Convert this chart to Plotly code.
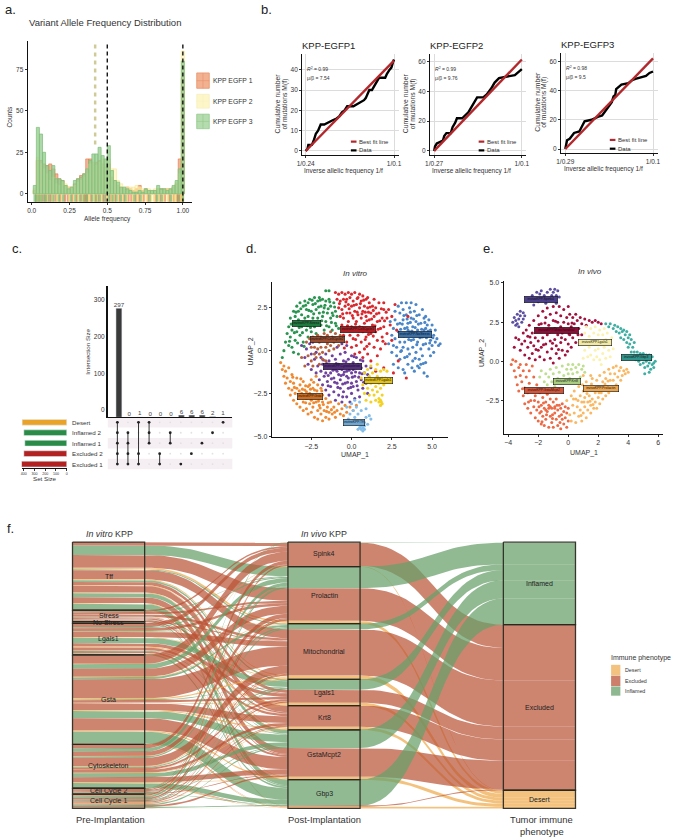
import numpy as np
import plotly.graph_objects as go

W, H = 680, 839
FONT = "Liberation Sans"

# ---------- panel a: allele frequency histogram ----------
hist_step = 0.0204
hist_bins = list(range(1, 50))
egfp1_counts = [2,20,20,18,17,18,15,12,9,8,5,4,4,6,9,11,12,21,21,19,19,20,18,16,18,10,8,5,4,3,4,3,2,3,5,2,3,2,2,2,3,3,3,3,3,4,6,21,70]
egfp2_counts = [3,22,18,15,12,8,10,6,5,7,6,4,4,5,7,8,10,12,18,19,17,19,21,20,21,15,15,8,6,4,4,4,4,5,4,3,2,3,2,3,3,2,3,3,3,4,7,12,86]
egfp3_counts = [5,40,36,25,17,14,17,9,9,8,5,3,4,8,9,10,12,15,20,24,24,28,23,21,29,14,8,7,4,4,3,2,1,1,2,1,3,2,2,2,5,3,3,2,3,5,8,15,80]
rug1 = [.03,.05,.07,.09,.11,.13,.16,.19,.22,.24,.27,.3,.33,.35,.36,.37,.39,.42,.44,.47,.49,.52,.55,.58,.61,.64,.66,.69,.71,.74,.77,.82,.85,.88,.91,.94,.96,.97,.98,.99,1.0]
rug2 = [.04,.06,.1,.14,.17,.2,.25,.28,.31,.34,.38,.41,.43,.46,.5,.53,.54,.57,.6,.63,.67,.7,.73,.76,.79,.81,.84,.87,.9,.93,.95,.99,1.0]
rug3 = [.02,.03,.045,.06,.08,.095,.12,.145,.18,.21,.26,.29,.32,.345,.365,.4,.425,.45,.48,.51,.535,.56,.59,.62,.68,.72,.78,.83,.86,.92,.97,1.0]
vaf_black_lines = [0.5, 1.0]
vaf_tan_line = [0.42]
egfp_names = ["KPP EGFP 1", "KPP EGFP 2", "KPP EGFP 3"]

# ---------- panel b: neutral-evolution fits ----------
b1_x = [0,.02,.03,.07,.09,.10,.115,.14,.17,.21,.25,.30,.35,.38,.41,.44,.47,.54,.58,.63,.66,.68,.70,.72,.75,.78,.80,.83,.90,.92,.95,.97,.99,1]
b1_y = [0,1,3,3,5,7,8.5,10,13,13,14,15,16,17,19,20,22,22,23,24,25,26,28,30,30,32,34,36,36,38,40,41,44,45]
b2_x = [0,.01,.03,.06,.10,.115,.14,.19,.21,.24,.26,.32,.36,.39,.42,.45,.49,.56,.60,.65,.69,.74,.85,.92,.96,1]
b2_y = [0,3,5,6,7,10,12,12,16,19,22,22,24,26,29,32,36,36,38,42,46,49,50,51,53,55]
b3_x = [0,.01,.02,.05,.08,.10,.16,.19,.22,.30,.33,.37,.42,.46,.50,.53,.55,.57,.58,.60,.64,.72,.76,.80,.86,.92,.96,1]
b3_y = [0,3,6,7,9,11,12,16,19,20,21,22,23,26,29,32,36,37,41,42,44,45,47,48,49,50,52,53]
fit_end = [44.5, 61.5, 62]
b_titles = ["KPP-EGFP1", "KPP-EGFP2", "KPP-EGFP3"]
b_low_ticks = ["1/0.24", "1/0.27", "1/0.29"]
b_r2 = ["0.99", "0.99", "0.98"]
b_mu = ["7.54", "9.76", "9.5"]

# ---------- panel c: upset plot ----------
inter_sizes = [297,0,1,0,0,0,6,6,6,2,1]
set_names = ["Desert","Inflamed 2","Inflamed 1","Excluded 2","Excluded 1"]
set_sizes = [415,399,390,399,421]
set_colors = ["#E9A32A","#2B8C47","#2B8C47","#B22222","#B22222"]
inter_members = [[0,1,2,3,4],[1,2,3,4],[0,3,4],[0,1,2],[3,4],[1,2],[4],[3],[2],[1],[0]]

# ---------- panel d: in vitro UMAP ----------
d_stress = [(-4.2,0),(-4.1,.5),(-4,1),(-3.9,.3),(-3.9,1.4),(-3.8,.8),(-3.8,1.9),(-3.7,.2),(-3.7,1.2),(-3.6,2.3),(-3.6,1.6),(-3.5,.6),(-3.5,2),(-3.4,2.6),(-3.4,1.1),(-3.3,1.8),(-3.3,2.3),(-3.2,.9),(-3.2,2.8),(-3.1,1.4),(-3.1,2.1),(-3,2.6),(-3,.5),(-2.9,1.9),(-2.9,2.9),(-2.8,1.2),(-2.8,2.4),(-2.7,.8),(-2.7,2),(-2.7,2.8),(-2.6,1.6),(-2.6,3),(-2.5,2.3),(-2.5,1.1),(-2.4,2.7),(-2.4,1.9),(-2.3,3.1),(-2.3,1.4),(-2.2,2.4),(-2.2,1),(-2.1,2.9),(-2.1,1.9),(-2,2.2),(-2,3.1),(-1.9,1.5),(-1.9,2.6),(-1.8,3),(-1.8,2),(-1.7,1.2),(-1.7,2.5),(-1.6,2.9),(-1.6,1.7),(-1.5,2.2),(-1.4,3),(-1.4,1.4),(-1.3,2.6),(-1.3,1.9),(-1.2,2.2),(-1.2,1.2),(-1.1,2.8),(-1,1.6),(-1,2.3),(-.9,2),(-.8,1.3),(-1.6,3.5),(-1.4,3.5),(-3.3,-.2),(-4.3,-.4),(-3.6,-.1),(-3.75,1.55),(-3.55,1.05),(-3.45,2.25),(-3.25,1.35),(-3.15,2.45),(-2.95,1.55),(-2.85,2.65),(-2.65,2.35),(-2.55,1.35),(-2.45,2.95),(-2.35,2.15),(-2.25,2.75),(-2.15,1.55),(-2.05,2.55),(-1.95,2.95),(-1.85,1.75),(-1.75,2.25),(-1.65,2.65),(-1.55,1.45),(-1.45,2.45),(-1.35,2.85),(-1.25,1.65),(-1.15,2.05),(-1.05,2.55),(-.95,1.45),(-3.85,.55),(-3.35,.45),(-3.05,1.05),(-2.75,1.45),(-2.95,.25)]
d_cycle1 = [(-1,3.4),(-.9,3),(-.8,2.5),(-.8,3.3),(-.7,2),(-.7,2.9),(-.6,1.5),(-.6,3.4),(-.6,2.4),(-.5,3),(-.5,1.9),(-.5,.9),(-.4,2.6),(-.4,3.3),(-.4,1.3),(-.3,2.2),(-.3,.5),(-.3,3),(-.2,1.7),(-.2,2.7),(-.2,3.4),(-.1,.9),(-.1,2.2),(-.1,3.1),(0,1.4),(0,2.6),(0,.2),(0,3.3),(.1,1.9),(.1,2.9),(.1,.7),(.2,3.4),(.2,2.3),(.2,1.2),(.2,-.2),(.3,2.7),(.3,1.7),(.3,.3),(.4,3.1),(.4,2.1),(.4,.9),(.5,2.5),(.5,1.4),(.5,-.1),(.5,3.3),(.6,1.9),(.6,2.9),(.6,.5),(.7,2.3),(.7,1.1),(.7,3.2),(.7,-.4),(.8,2.6),(.8,1.6),(.8,.1),(.9,3),(.9,2),(.9,.8),(1,2.5),(1,1.3),(1,-.2),(1,3.1),(1.1,1.8),(1.1,2.8),(1.1,.4),(1.2,2.2),(1.2,1),(1.2,-.6),(1.3,2.6),(1.3,1.5),(1.4,3),(1.4,2),(1.4,.2),(1.5,1.1),(1.5,2.5),(1.6,1.7),(1.6,.6),(1.6,-.3),(1.7,2.2),(1.7,2.8),(1.8,1.3),(1.8,.1),(1.9,1.9),(1.9,.8),(2,2.4),(2,2.8),(2,1.4),(2.1,.4),(2.2,1.9),(2.2,1),(2.3,2.4),(2.4,1.5),(2.5,.6),(2.5,2),(2.7,2.7),(2.8,1.2),(1.5,-1.2),(2,-1),(2.6,-1.3),(3.4,-1.6),(2.9,-.6),(3.5,2),(-.75,2.75),(-.55,2.15),(-.35,2.85),(-.25,1.45),(-.15,2.45),(.05,2.05),(.15,2.65),(.25,1.55),(.35,3.05),(.35,2.25),(.45,1.15),(.55,2.75),(.65,2.15),(.65,1.35),(.75,2.95),(.85,2.25),(.85,.65),(.95,1.75),(1.05,2.25),(1.05,.95),(1.15,2.55),(1.25,1.85),(1.35,2.35),(1.35,.85),(1.45,1.45),(1.55,2.15),(1.65,1.25),(1.75,1.75),(1.85,2.45),(1.95,.55),(2.05,1.75),(2.15,2.25),(-.45,.15),(.25,.65),(.95,.25)]
d_nostress = [(2.4,1.7),(2.5,.9),(2.5,-.1),(2.6,.3),(2.6,1.3),(2.6,-.8),(2.7,2.3),(2.7,1.8),(2.7,.7),(2.8,-.3),(2.8,.2),(2.9,1.1),(2.9,2.6),(2.9,-1),(3,1.6),(3,.5),(3,2.2),(3,-.5),(3.1,2.8),(3.1,1),(3.1,0),(3.2,2.4),(3.2,1.8),(3.2,-1.1),(3.3,.5),(3.3,1.3),(3.3,-.4),(3.4,2.8),(3.4,2.1),(3.4,.9),(3.5,1.6),(3.5,.1),(3.5,-.8),(3.6,2.5),(3.6,1.1),(3.6,-.2),(3.7,1.9),(3.7,.6),(3.7,2.8),(3.8,1.4),(3.8,-.6),(3.8,.2),(3.9,2.3),(3.9,.9),(3.9,-1.2),(4,1.7),(4,-.1),(4,2.7),(4.1,.5),(4.1,1.2),(4.2,2.1),(4.2,-.5),(4.2,-1),(4.3,1.6),(4.3,.1),(4.4,2.4),(4.4,.8),(4.4,-.3),(4.5,1.9),(4.5,1.2),(4.5,-1.3),(4.6,.4),(4.6,2),(4.6,-.7),(4.7,1.5),(4.7,.9),(4.7,-1.5),(4.8,1.8),(4.8,.1),(4.9,1.2),(4.9,.6),(4.9,-.3),(5,1.5),(5,.3),(5.1,.9),(5.1,-.1),(5.2,1.2),(5.2,.5),(5.3,.7),(5.4,.3),(5.5,.4),(3.3,-1.3),(4.1,-.9),(4,1),(4.6,1.3),(3.2,.2),(3.5,1.2),(4.3,-.8),(2.3,.4),(2.85,1.55),(3.05,1.25),(3.15,1.55),(3.25,2.05),(3.25,.85),(3.45,1.85),(3.45,1.35),(3.55,.65),(3.65,1.65),(3.65,2.25),(3.75,1.15),(3.85,1.85),(3.85,.65),(3.95,1.35),(4.05,2.05),(4.05,.35),(4.15,1.55),(4.25,.75),(4.35,1.25),(4.45,.35),(4.55,1.65),(4.65,.75),(4.75,1.15),(4.85,.45),(5.05,.75),(3.05,-.05),(3.45,-.35),(3.95,-.45),(4.45,-.75),(3.75,-1)]
d_gsta = [(-4.4,-.7),(-4.3,-1.1),(-4.2,-1.5),(-4.2,-.9),(-4.1,-1.9),(-4.1,-1.2),(-4,-1.6),(-3.9,-2.2),(-3.9,-1),(-3.8,-1.8),(-3.8,-2.6),(-3.7,-1.4),(-3.7,-2.3),(-3.6,-2.9),(-3.6,-1.9),(-3.5,-2.5),(-3.4,-1.6),(-3.4,-3.1),(-3.4,-2.2),(-3.3,-2.8),(-3.2,-3.3),(-3.2,-2),(-3.1,-2.5),(-3,-3),(-3,-3.5),(-3,-1.8),(-2.9,-2.3),(-2.8,-2.8),(-2.8,-3.4),(-2.7,-3.7),(-2.7,-2.1),(-2.6,-2.5),(-2.6,-3.1),(-2.5,-1.7),(-2.5,-2.9),(-2.5,-3.6),(-2.4,-2.2),(-2.4,-3.3),(-2.3,-3.9),(-2.3,-2.6),(-2.2,-1.5),(-2.2,-3),(-2.1,-2),(-2.1,-3.5),(-2.1,-4),(-2,-2.6),(-2,-3.2),(-1.9,-3.7),(-1.9,-2.2),(-1.8,-4.1),(-1.8,-3),(-1.7,-3.5),(-1.6,-3.9),(-1.6,-2.8),(-1.5,-3.3),(-1.4,-4),(-1.4,-3.6),(-1.3,-3),(-1.2,-3.7),(-1.1,-3.3),(-1,-3.9),(-.9,-3.5),(-.8,-3.1),(-.7,-3.7),(-.6,-3.4),(-.5,-3.8),(-.4,-3.2),(-.3,-3.6),(-.1,-3.3),(.1,-3.5),(.3,-3.2),(-2.6,-2),(-2.3,-2.3),(-1.8,-2.6),(-2.8,-2.4),(-3.2,-2.6),(-3.55,-2.15),(-3.25,-2.35),(-3.05,-2.25),(-2.85,-2.05),(-2.85,-3.05),(-2.65,-2.75),(-2.55,-2.25),(-2.45,-2.65),(-2.35,-3.05),(-2.25,-2.75),(-2.15,-2.35),(-2.05,-2.95),(-1.95,-3.35),(-1.85,-2.35),(-1.75,-3.15),(-1.55,-3.55),(-1.45,-3.05),(-1.25,-3.45),(-3.65,-1.55),(-3.15,-1.65),(-2.35,-1.85),(-1.05,-3.6)]
d_cyto = [(-3.1,.3),(-2.9,-.4),(-2.8,.1),(-2.7,-.8),(-2.6,.4),(-2.5,-.2),(-2.5,-1.1),(-2.4,.5),(-2.3,-.5),(-2.2,-1.3),(-2.2,-.1),(-2.1,-.9),(-2,-1.7),(-1.9,-.4),(-1.9,-1.2),(-1.8,-2),(-1.8,-.8),(-1.7,-1.5),(-1.6,-.2),(-1.6,-2.3),(-1.5,-1),(-1.5,-1.8),(-1.4,-.6),(-1.4,-2.6),(-1.3,-1.3),(-1.3,-2.1),(-1.2,-.3),(-1.2,-.9),(-1.1,-1.6),(-1.1,-2.4),(-1,-1.1),(-1,-.5),(-1,-2.9),(-.9,-1.9),(-.9,.2),(-.8,-.8),(-.8,-1.4),(-.8,-2.6),(-.7,-.2),(-.7,-2.2),(-.7,-1.7),(-.6,-1.1),(-.6,-3),(-.6,.4),(-.5,-.6),(-.5,-1.4),(-.5,-2.4),(-.4,-1.9),(-.4,-.1),(-.4,-.9),(-.3,-1.2),(-.3,-2.7),(-.3,.3),(-.2,-.5),(-.2,-1.6),(-.2,-2.2),(-.1,-.9),(-.1,-3),(0,-1.3),(0,-.3),(0,-1.9),(0,-2.5),(.1,-.7),(.1,-1.1),(.1,-2.1),(.2,-1.5),(.2,-2.8),(.3,-.4),(.3,-1),(.3,-1.8),(.4,-2.3),(.4,-.8),(.5,-1.3),(.5,-2.7),(.6,-1),(.6,-1.7),(.7,-2.2),(.7,-.6),(.8,-1.3),(.9,-1.9),(.9,-.9),(1,-2.5),(1,-1.4),(1.2,-1),(1.3,-1.8),(-1.6,-1.3),(-.9,-1.2),(-.3,-1.5),(-1.75,-.55),(-1.55,-.75),(-1.45,-1.45),(-1.25,-1.65),(-1.15,-1.15),(-1.05,-1.85),(-.95,-.75),(-.85,-2.15),(-.75,-1.05),(-.65,-1.45),(-.55,-1.95),(-.45,-1.25),(-.35,-.65),(-.25,-1.85),(-.15,-1.15),(-.05,-2.15),(.05,-1.55),(.15,-.35),(.25,-1.25),(.35,-2.05),(.45,-1.55),(.55,-.55),(.65,-1.35),(.75,-1.85),(-1.45,-2.05),(-.55,-2.7)]
d_cycle2 = [(-3.1,-.4),(-2.9,-.9),(-2.8,.5),(-2.7,-.3),(-2.6,.7),(-2.5,.2),(-2.5,-.6),(-2.4,.8),(-2.4,-.9),(-2.3,.2),(-2.2,-.4),(-2.2,.6),(-2.1,.9),(-2.1,.1),(-2,-.2),(-2,-.8),(-2,.5),(-1.9,.8),(-1.9,.2),(-1.8,-.1),(-1.8,-.5),(-1.7,.6),(-1.7,1),(-1.6,.2),(-1.6,-.6),(-1.5,.9),(-1.5,.4),(-1.4,.7),(-1.4,0),(-1.3,1.1),(-1.3,.3),(-1.2,.8),(-1.1,.1),(-1.1,.5),(-1,1),(-.9,.6),(-.8,.3),(-.7,.9),(-.6,.6),(-2.3,-.2)]
d_lgals = [(.6,-1.6),(.7,-2),(.8,-1.3),(.8,-2.5),(.9,-1.7),(.9,-2.9),(1,-1.1),(1,-2.2),(1.1,-1.5),(1.1,-2.6),(1.2,-1.9),(1.2,-.9),(1.2,-3),(1.3,-2.3),(1.3,-1.3),(1.4,-1.7),(1.4,-2.6),(1.5,-1.1),(1.5,-2.1),(1.5,-2.9),(1.6,-.8),(1.6,-1.5),(1.6,-2.4),(1.7,-1.9),(1.7,-2.8),(1.7,-3),(1.8,-1.2),(1.8,-2.2),(1.8,-2.9),(1.9,-1.6),(1.9,-3.1),(1.9,-2.6),(2,-2),(2,-1.1),(2.1,-1.6),(2.2,-1.2),(1.8,-3.2),(1.85,-3)]
d_tff = [(-.3,-3.3),(-.2,-4),(-.1,-3.7),(0,-3.1),(0,-4.2),(.1,-3.5),(.2,-3.9),(.2,-2.9),(.3,-4.3),(.3,-3.3),(.4,-3.7),(.4,-4.6),(.5,-4.2),(.5,-3),(.5,-4.5),(.6,-4.4),(.6,-4.6),(.6,-3.5),(.7,-4.3),(.7,-4.7),(.7,-4.5),(.8,-4.2),(.8,-4.6),(.8,-4.4),(.9,-3.9),(1,-4.3),(.9,-3.4),(1.1,-3.8),(1.2,-4)]
d_names = ["invitroKPP.CellCycle1","invitroKPP.Stress","invitroKPP.NoStress","invitroKPP.Gsta","invitroKPP.Cytoskeleton","invitroKPP.CellCycle2","invitroKPP.Lgals1","invitroKPP.Tff"]
d_label_x = [.37,-2.80,3.95,-2.58,-.59,-1.47,1.66,.16]
d_label_y = [1.22,1.57,.97,-2.68,-.91,.64,-1.74,-4.19]
d_label_w = [34,27,32,24,37,33,27,20]
d_label_fill = ["#B01E24","#1E7A3E","#3A6FA8","#CC6F24","#56307F","#9A4C2E","#E3C21A","#6FA6D2"]

# ---------- panel e: in vivo UMAP ----------
e_spink = [(-2.5,3.9),(-2.4,4.2),(-2.3,3.6),(-2.2,4),(-2.1,4.4),(-2,3.8),(-1.9,4.3),(-1.8,4.5),(-1.8,3.9),(-1.6,4.2),(-1.5,3.7),(-1.4,4.4),(-1.3,4),(-1.2,4.6),(-1.1,4.2),(-1,4.4),(-.9,3.9),(-.9,4.6),(-.8,4.2),(-.7,4.5),(-.6,4.1),(-.8,3.7),(-3.7,2.5),(-3.6,2.8),(-3.5,2.3),(-3.5,2.6),(-3.4,3),(-3.4,2.4),(-3.3,2.7),(-3.3,2.2),(-3.2,3.2),(-3.2,2.9),(-3.1,2.5),(-3,3.1),(-3,2.7),(-2.9,2.9)]
e_mito = [(-3.3,1.4),(-3.2,.7),(-3.1,1.1),(-3,1.8),(-2.9,.4),(-2.9,1.3),(-2.8,2),(-2.7,.9),(-2.7,1.6),(-2.6,.2),(-2.6,2.3),(-2.5,1.2),(-2.4,1.8),(-2.4,.5),(-2.3,2.6),(-2.3,1),(-2.2,.1),(-2.2,1.5),(-2.1,2.1),(-2,.7),(-2,2.9),(-2,1.3),(-1.9,1.9),(-1.9,.3),(-1.8,2.4),(-1.8,.9),(-1.7,3.2),(-1.7,1.5),(-1.6,.1),(-1.6,2),(-1.5,2.8),(-1.5,1.1),(-1.4,.6),(-1.4,3.4),(-1.4,1.7),(-1.3,2.3),(-1.2,1.3),(-1.2,.2),(-1.2,3),(-1.1,1.9),(-1.1,.8),(-1,2.6),(-1,3.5),(-1,-.1),(-.9,1.4),(-.9,2.1),(-.8,.5),(-.8,3.1),(-.8,1),(-.7,2.5),(-.7,1.7),(-.6,3.5),(-.6,.2),(-.5,2.2),(-.5,1.2),(-.5,2.9),(-.4,.7),(-.4,1.8),(-.3,3.3),(-.3,2.5),(-.2,1.4),(-.2,.4),(-.1,2.8),(-.1,2),(0,3.5),(0,1.1),(0,2.4),(.1,1.7),(.1,3),(.2,2.2),(.2,.9),(.3,2.8),(.3,1.5),(.4,2.4),(.4,1.9),(.5,3),(.5,1.2),(.6,2.6),(.7,2.1),(.8,2.8),(.9,1.7),(.9,2.4),(1.1,2.7),(1.2,2.3),(1.4,2.6),(1.6,2.5),(1.8,2.6),(2,2.5),(2.2,2.4),(-3.6,.9),(-3.5,1.5),(-2.55,1.55),(-2.15,.75),(-1.95,2.35),(-1.65,1.05),(-1.55,2.45),(-1.25,1.85),(-1.05,1.15),(-.85,2.55),(-.65,.75),(-.45,1.5),(-.25,2.05),(.05,1.75),(.25,2.45),(-.05,.65),(.65,1.7)]
e_gsta = [(-3.8,-.2),(-3.7,.1),(-3.6,-.6),(-3.5,-1),(-3.5,0),(-3.4,-1.5),(-3.3,-.4),(-3.3,-1.9),(-3.2,-.9),(-3.2,-.2),(-3.1,-1.3),(-3,-2.2),(-3,-.6),(-2.9,-1.7),(-2.9,-2.7),(-2.8,-1),(-2.8,-.2),(-2.7,-2),(-2.7,-3),(-2.6,-1.4),(-2.6,-.6),(-2.5,-2.5),(-2.5,-3.3),(-2.4,-1.8),(-2.4,-.3),(-2.3,-2.9),(-2.3,-1),(-2.2,-3.6),(-2.2,-2.2),(-2.1,-1.5),(-2.1,-3.1),(-2,-2.6),(-2,-3.8),(-1.9,-2),(-1.9,-3.3),(-1.8,-4),(-1.8,-2.8),(-1.7,-2.3),(-1.7,-3.5),(-1.6,-3),(-1.6,-4.1),(-1.5,-2.6),(-1.5,-3.7),(-1.4,-2.1),(-1.4,-3.2),(-1.3,-4.2),(-1.3,-2.8),(-1.2,-3.5),(-1.2,-2.4),(-1.1,-3),(-1.1,-3.9),(-1,-2.6),(-1,-4.2),(-.9,-3.3),(-.9,-2.9),(-.8,-3.7),(-.8,-2.4),(-.7,-3.1),(-.7,-4.1),(-.6,-2.8),(-.6,-3.5),(-.5,-3),(-.5,-4.3),(-.4,-3.7),(-.4,-2.7),(-.3,-3.2),(-.3,-4),(-.2,-2.9),(-.2,-3.6),(-.1,-4.2),(-.1,-3.3),(0,-3.8),(0,-3),(-1.3,-3),(-1.5,-3.1),(-1.8,-3.2),(-1.2,-2.9),(-.9,-3),(-3.05,-1.75),(-2.55,-1.9),(-2.25,-2.5),(-1.95,-2.9),(-1.65,-2.65),(-1.45,-3.4),(-1.05,-3.4),(-.75,-2.8),(-.45,-3.4),(-2.65,-2.6),(-1.75,-3.85),(-1.05,-3.65),(-.55,-3.9)]
e_prolactin = [(-.1,-2.5),(.1,-3.4),(.2,-2.2),(.2,-3.8),(.3,-2.8),(.4,-1.9),(.4,-3.3),(.5,-2.4),(.5,-3.9),(.6,-2.9),(.7,-1.6),(.7,-3.5),(.8,-2.2),(.8,-3.1),(.9,-2.6),(.9,-3.8),(1,-1.9),(1,-3.3),(1.1,-2.3),(1.1,-2.9),(1.2,-3.6),(1.2,-1.3),(1.3,-2.6),(1.3,-3.1),(1.4,-1.8),(1.4,-2.2),(1.5,-3.3),(1.5,-2.8),(1.6,-1.1),(1.6,-2.4),(1.7,-1.6),(1.7,-3),(1.8,-2),(1.8,-2.6),(1.9,-1.2),(1.9,-3),(2,-2.3),(2,-1.6),(2.1,-.9),(2.1,-2.7),(2.2,-2),(2.3,-1.3),(2.3,-2.4),(2.4,-.7),(2.4,-1.8),(2.5,-2.2),(2.5,-1.1),(2.6,-1.6),(2.7,-.5),(2.7,-2),(2.8,-1.2),(2.8,-.8),(2.9,-1.7),(3,-.4),(3,-1.2),(3.1,-.8),(3.2,-1.5),(3.2,-.3),(3.3,-1),(3.4,-.6),(3.5,-1.2),(3.5,-.4),(3.6,-.9),(3.7,-.6),(3.8,-.8),(3.9,-.5),(4,-.7),(1.5,-.9),(.5,-1.3),(1,-.9),(.35,-2.4),(.65,-2.5),(.85,-3.45),(1.05,-2.6),(1.25,-2.05),(1.45,-2.55),(1.65,-2.75),(1.85,-1.7),(2.05,-2),(2.25,-1.65),(2.45,-1.45),(2.65,-1.25),(.95,-1.5),(1.55,-1.45)]
e_krt8 = [(-1.9,-1),(-1.8,-.6),(-1.6,-1.3),(-1.5,-.8),(-1.4,-1.5),(-1.3,-1),(-1.2,-.5),(-1.1,-1.3),(-1,-.8),(-.9,-1.6),(-.8,-.4),(-.7,-1.1),(-.6,-.7),(-.5,-1.4),(-.4,-.3),(-.3,-.9),(-.2,-1.2),(-.1,-.5),(0,-.8),(0,-.2),(.1,-1.1),(.2,-.5),(.3,-.2),(.3,-.8),(.4,-1.2),(.5,-.4),(.6,-.7),(.7,-.2),(.8,-1),(.9,-.5),(1,-.3),(1.1,-.7)]
e_lgals = [(1,.2),(1.1,1.8),(1.1,.7),(1.2,2.2),(1.2,1.3),(1.3,.3),(1.4,1.6),(1.4,.9),(1.5,2.1),(1.5,.4),(1.6,1.2),(1.7,1.8),(1.7,.1),(1.8,.7),(1.8,2.2),(1.9,1.3),(1.9,.3),(2,1.7),(2,.8),(2.1,2),(2.1,.1),(2.2,1.2),(2.3,.5),(2.3,1.7),(2.4,2.1),(2.4,.9),(2.5,.2),(2.5,1.4),(2.6,1.8),(2.7,.7),(2.7,1.1),(2.8,.3),(2.9,1.5),(3,.8),(2.2,-.2)]
e_gbp3 = [(2.5,2.4),(2.7,2.2),(2.8,2.4),(3,2.1),(3.1,2.3),(3.2,1.9),(3.3,2.2),(3.4,1.8),(3.5,2.1),(3.5,1.5),(3.6,1.9),(3.7,2),(3.7,1.4),(3.8,1.7),(3.9,1.2),(3.9,1.9),(4,1.5),(4,.9),(4.1,1.7),(4.1,1.1),(4.2,.6),(4.2,1.4),(4.3,.9),(4.3,.3),(4.4,.6),(4.4,1.2),(4.5,.1),(4.6,.6),(4.6,.3),(4.7,0),(4.8,.5),(4.8,-.2),(4.9,.2),(5,.5),(5,-.1),(5.1,.2),(5.1,-.4),(5.2,.4),(5.2,0),(5.3,-.3),(5.3,.2),(5.4,.4),(5.4,-.1),(5.5,-.5),(5.5,.1),(5.6,-.2),(5.6,.3),(5.7,-.1),(5.7,-.4),(5.8,0),(5.4,-.7),(5.1,-.8)]
e_names = ["invivoKPP.Spink4","invivoKPP.Mitochondrial","invivoKPP.GstaMcpt2","invivoKPP.Prolactin","invivoKPP.Krt8","invivoKPP.Lgals1","invivoKPP.Gbp3"]
e_colors = ["#5E4FA2","#A3123F","#EC6A45","#FBB863","#BFDF90","#FBF2B0","#3FAEA3"]
e_label_x = [-1.8,-.77,-1.65,2.2,-.05,1.78,4.53]
e_label_y = [3.96,1.99,-1.89,-1.71,-1.27,1.21,.27]
e_label_w = [32,43,38,34,26,32,29]
e_label_fill = ["#4C3F8C","#8A0F36","#D2553A","#E9A552","#A9CC80","#F2E9A4","#2F948B"]

# ---------- panel f: alluvial ----------
pre_names = ["Tff","Stress","No Stress","Lgals1","Gsta","Cytoskeleton","Cell Cycle 2","Cell Cycle 1"]
post_names = ["Spink4","Prolactin","Mitochondrial","Lgals1","Krt8","GstaMcpt2","Gbp3"]
pheno_names = ["Inflamed","Excluded","Desert"]
# each row is one post-implantation cluster, columns are Inflamed, Excluded, Desert
flow_tff = [[0,10,0],[29,38,5],[3,27,3],[5,10,2],[0,20,2],[12,18,2],[17,1,1]]
flow_stress = [[0,5,0],[2,6,0],[0,7,1],[1,2,0],[0,4,0],[1,3,0],[3,0,0]]
flow_nostress = [[0,0,0],[0,1,0],[0,2,0],[0,0,0],[0,1,0],[0,0,0],[1,0,0]]
flow_lgals1 = [[0,12,0],[3,8,1],[1,16,2],[17,10,3],[0,7,1],[2,6,1],[5,0,0]]
flow_gsta = [[0,27,1],[14,24,2],[6,57,4],[2,7,2],[0,20,3],[22,37,4],[35,1,2]]
flow_cyto = [[1,11,0],[10,13,1],[4,25,2],[3,6,1],[0,8,2],[12,15,2],[14,1,1]]
flow_cc2 = [[0,1,0],[2,3,0],[0,3,0],[1,1,0],[0,2,0],[2,2,0],[1,0,0]]
flow_cc1 = [[1,4,1],[5,5,0],[3,2,0],[2,3,1],[0,2,1],[4,5,0],[3,0,1]]
pheno_fill = ["rgba(104,160,106,.73)","rgba(186,83,54,.71)","rgba(240,174,84,.75)"]
pheno_swatch = ["#F3C27F","#CC7F6A","#8EB88F"]
legend_names = ["Desert","Excluded","Inflamed"]

# ---------- figure helpers ----------
fig = go.Figure()
annots, shapes, layout_axes = [], [], {}

def fx(p): return p / W
def fy(p): return 1 - p / H

def axes(n, x0, x1, top, bottom, xr, yr, xkw=None, ykw=None):
    base = dict(showgrid=False, zeroline=False, showline=True, linecolor="#111", linewidth=1.2,
                ticks="outside", ticklen=2, tickwidth=.8, tickcolor="#333",
                tickfont=dict(size=6.5, color="#333", family=FONT))
    xa = dict(base, domain=[fx(x0), fx(x1)], range=xr, anchor=f"y{n}")
    ya = dict(base, domain=[fy(bottom), fy(top)], range=yr, anchor=f"x{n}")
    xa.update(xkw or {}); ya.update(ykw or {})
    layout_axes[f"xaxis{n}"] = xa
    layout_axes[f"yaxis{n}"] = ya
    return f"x{n}", f"y{n}"

def text(x, y, t, size=7, color="#333", anchor="center", angle=0):
    annots.append(dict(x=fx(x), y=fy(y), xref="paper", yref="paper", text=t, showarrow=False,
                       xanchor=anchor, yanchor="middle", textangle=angle, borderpad=0,
                       font=dict(size=size, color=color, family=FONT)))

def rect(x0, y0, x1, y1, fill, line="rgba(0,0,0,0)", lw=0):
    shapes.append(dict(type="rect", xref="paper", yref="paper", x0=fx(x0), x1=fx(x1), y0=fy(y0), y1=fy(y1),
                       fillcolor=fill, line=dict(color=line, width=lw), layer="below"))

NOHOVER = dict(hoverinfo="skip", showlegend=False)

# panel letters
for x, y, t in [(6, 8, "a."), (265, 8, "b."), (12, 248, "c."), (249, 248, "d."), (489, 248, "e."), (6, 529, "f.")]:
    text(x, y, t, size=13, color="#222")

# ---------- a ----------
xa, ya = axes(1, 23, 189, 39.3, 200.7, [-0.026, 1.059], [-4.8, 92],
              dict(tickvals=[0, .25, .5, .75, 1], ticktext=["0.0", "0.25", "0.5", "0.75", "1.00"]),
              dict(tickvals=[0, 25, 50, 75]))
hist_x = [1 - hist_step * (49 - i) for i in hist_bins]
fig.add_trace(go.Scatter(x=vaf_tan_line * 2, y=[90, 28], mode="lines", xaxis=xa, yaxis=ya,
                         line=dict(color="#CFCB98", width=2.5, dash="4px,4px"), **NOHOVER))
for counts, fill, edge in [(egfp1_counts, "rgba(232,120,70,.55)", "rgba(232,120,70,.8)"),
                           (egfp2_counts, "rgba(255,243,165,.55)", "rgba(245,232,150,.8)"),
                           (egfp3_counts, "rgba(150,205,145,.78)", "rgba(125,190,120,.9)")]:
    fig.add_trace(go.Bar(x=hist_x, y=counts, width=hist_step, xaxis=xa, yaxis=ya,
                         marker=dict(color=fill, line=dict(color=edge, width=.8)), **NOHOVER))
for vals, col in [(rug1, "rgba(232,120,70,.7)"), (rug2, "rgba(245,225,130,.8)"), (rug3, "rgba(120,185,115,.7)")]:
    fig.add_trace(go.Scatter(x=vals, y=[-3] * len(vals), mode="markers", xaxis=xa, yaxis=ya,
                             marker=dict(symbol="line-ns", size=6, line=dict(width=2.4, color=col)), **NOHOVER))
for v in vaf_black_lines:
    fig.add_trace(go.Scatter(x=[v, v], y=[90, -4.8], mode="lines", xaxis=xa, yaxis=ya,
                             line=dict(color="#000", width=1.3, dash="4px,3px"), **NOHOVER))
text(101, 21, "Variant Allele Frequency Distribution", size=9.5)
text(5, 115, "Counts", size=6.5, angle=-90)
text(104, 218, "Allele frequency", size=6.5)
for (y0, y1), nm, fill, edge in zip([(71.3, 86.7), (92.7, 106.7), (112.7, 127.3)], egfp_names,
                                     ["#F2B190", "#FDF6C9", "#B5DCAE"], ["#E9936A", "#F8F0C0", "#93C98C"]):
    rect(194, y0, 206.7, y1, fill, edge, .8)
    shapes.append(dict(type="line", xref="paper", yref="paper", x0=fx(200.3), x1=fx(200.3), y0=fy(y0), y1=fy(y1),
                       line=dict(color=edge, width=.6)))
    shapes.append(dict(type="line", xref="paper", yref="paper", x0=fx(194), x1=fx(206.7), y0=fy((y0+y1)/2), y1=fy((y0+y1)/2),
                       line=dict(color=edge, width=.6)))
    text(209.5, (y0 + y1) / 2, nm, size=6.8, anchor="left")

# ---------- b ----------
b_geo = [(2, 300.7, 398.3, 52.7, 153.7, [-.040, 1.052], [-1.96, 47.5], [0, 10, 20, 30, 40], b1_x, b1_y, 0),
         (3, 430, 527.7, 52.7, 153.7, [-.048, 1.053], [-2.7, 64.9], [0, 20, 40, 60], b2_x, b2_y, 1),
         (4, 562.7, 660.7, 51, 152, [-.048, 1.056], [-2.9, 65.8], [0, 20, 40, 60], b3_x, b3_y, 2)]
for n, x0, x1, top, bot, xr, yr, yt, bx, by, k in b_geo:
    grid = dict(showgrid=True, gridcolor="#DCDCDC", gridwidth=1)
    xa, ya = axes(n, x0, x1, top, bot, xr, yr,
                  dict(tickvals=[0, 1], ticktext=[b_low_ticks[k], "1/0.1"], **grid),
                  dict(tickvals=yt, **grid))
    fig.add_trace(go.Scatter(x=bx, y=by, mode="lines", xaxis=xa, yaxis=ya,
                             line=dict(color="#000", width=2.4), **NOHOVER))
    fig.add_trace(go.Scatter(x=[0, 1], y=[0, fit_end[k]], mode="lines", xaxis=xa, yaxis=ya,
                             line=dict(color="#B2282C", width=2.4), **NOHOVER))
    text(x0 - 1, top - 8.7, b_titles[k], size=9.5, anchor="left", color="#222")
    text((x0 + x1) / 2 - 6.5, bot + 15.8, "Inverse allelic frequency 1/f", size=6.5)
    text(x0 - 24.7, top + 49.5, "Cumulative number", size=6.8, angle=-90)
    text(x0 - 17.5, top + 49.5, "of mutations M(f)", size=6.8, angle=-90)
    text(x0 + 4, top + 15, f"<i>R</i><sup>2</sup> = {b_r2[k]}", size=5, anchor="left")
    text(x0 + 4, top + 24, f"\u03bc/\u03b2 = {b_mu[k]}", size=5, anchor="left")
    for dy, col, nm in [(87.6, "#B2282C", "Best fit line"), (96.4, "#000", "Data")]:
        shapes.append(dict(type="line", xref="paper", yref="paper", x0=fx(x0 + 49.3), x1=fx(x0 + 55),
                           y0=fy(top + dy), y1=fy(top + dy), line=dict(color=col, width=2.2)))
        text(x0 + 56.5, top + dy, nm, size=6, anchor="left")

# ---------- c ----------
bar_cols = list(range(len(inter_sizes)))
xa, ya = axes(5, 104, 230, 285.7, 417.3, [-1.07, 10.89], [0, 356.6],
              dict(showticklabels=False, ticks="", linewidth=.9),
              dict(tickvals=[20, 120, 220, 320], ticktext=["0", "100", "200", "300"], linewidth=1.6, ticks=""))
fig.add_trace(go.Bar(x=bar_cols, y=inter_sizes, width=.57, xaxis=xa, yaxis=ya, marker_color="#3A3A3A", **NOHOVER))
fig.add_trace(go.Scatter(x=bar_cols, y=inter_sizes, mode="text", text=[str(v) for v in inter_sizes],
                         textposition="top center", cliponaxis=False, xaxis=xa, yaxis=ya,
                         textfont=dict(size=6.2, color="#444", family=FONT), **NOHOVER))
text(82.7, 351.7, "Intersection Size", size=6.2, angle=-90)
for r in (0, 2, 4):
    py = 422.3 + 10.5 * r
    rect(104, py - 5.25, 230, py + 5.25, "#F5EFF3")
xm, ym = axes(6, 104, 230, 416, 470, [-.907, 10.87], [4.54, -.6],
              dict(visible=False), dict(visible=False))
grid_x = [c for c in bar_cols for _ in set_names]
grid_y = [r for _ in bar_cols for r in range(len(set_names))]
fig.add_trace(go.Scatter(x=grid_x, y=grid_y, mode="markers", xaxis=xm, yaxis=ym,
                         marker=dict(size=1.8, color="#E3E0E2"), **NOHOVER))
for c, mem in zip(bar_cols, inter_members):
    fig.add_trace(go.Scatter(x=[c] * len(mem), y=mem, mode="lines+markers", xaxis=xm, yaxis=ym,
                             marker=dict(size=2.8, color="#222"), line=dict(color="#333", width=1), **NOHOVER))
xs, ys = axes(7, 16.7, 63, 416, 468.3, [421, -5], [4.38, -.6],
              dict(tickvals=[0, 100, 200, 300, 400], ticklen=1.5,
                   tickfont=dict(size=3.6, color="#333", family=FONT), linewidth=.9),
              dict(visible=False))
fig.add_trace(go.Bar(y=list(range(len(set_names))), x=set_sizes, orientation="h", width=.55, xaxis=xs, yaxis=ys,
                     marker_color=set_colors, **NOHOVER))
text(40, 479, "Set Size", size=6.2)
for r, nm in enumerate(set_names):
    text(67, 422.3 + 10.5 * r, nm, size=6.2, anchor="left")

# ---------- d, e ----------
def umap(n, geo, ticksx, ticksy, groups, names, colors, lx, ly, lw, lfill, title, tx, ty, ux, uy, vx, vy, msize):
    xa, ya = axes(n, *geo, dict(tickvals=ticksx, tickfont=dict(size=7, color="#333", family=FONT)),
                  dict(tickvals=ticksy, tickfont=dict(size=7, color="#333", family=FONT)))
    for pts, col in zip(groups, colors):
        fig.add_trace(go.Scatter(x=[p[0] for p in pts], y=[p[1] for p in pts], mode="markers", xaxis=xa, yaxis=ya,
                                 marker=dict(size=msize, color=col, line=dict(width=0)), **NOHOVER))
    for nm, x, y, w, f in zip(names, lx, ly, lw, lfill):
        annots.append(dict(x=x, y=y, xref=xa, yref=ya, text=nm, showarrow=False, width=w, height=5,
                           bgcolor=f, bordercolor="#111", borderwidth=.6, borderpad=.2,
                           font=dict(size=3.4, color="#111", family=FONT)))
    text(tx, ty, f"<i>{title}</i>", size=8)
    text(ux, uy, "UMAP_1", size=7)
    text(vx, vy, "UMAP_2", size=7, angle=-90)

umap(8, (270, 448.3, 281.7, 437.3, [-4.95, 5.99], [-5.06, 3.99]), [-2.5, 0, 2.5, 5], [-5, -2.5, 0, 2.5],
     [d_gsta, d_nostress, d_stress, d_cycle1, d_cyto, d_cycle2, d_lgals, d_tff],
     d_names,
     ["#F08A32", "#4A86C8", "#2A9450", "#D9282E", "#6F429F", "#B8603C", "#F3D223", "#86BEEA"],
     d_label_x, d_label_y, d_label_w, d_label_fill, "In vitro", 355, 272.7, 354, 455, 249, 351, 3.1)
umap(9, (504.7, 665.7, 280.7, 434, [-4.3, 6.31], [-4.63, 5.1]), [-4, -2, 0, 2, 4, 6], [-2.5, 0, 2.5, 5],
     [e_spink, e_mito, e_gsta, e_prolactin, e_krt8, e_lgals, e_gbp3],
     e_names, e_colors, e_label_x, e_label_y, e_label_w, e_label_fill, "In vivo", 592.3, 270.7, 585.7, 452.7, 483.3, 353, 3)
layout_axes["yaxis9"].update(tickvals=[-2.5, 0, 2.5, 5], ticktext=["\u22122.5", "0.0", "2.5", "5.0"])
layout_axes["yaxis8"].update(tickvals=[-5, -2.5, 0, 2.5], ticktext=["\u22125.0", "\u22122.5", "0.0", "2.5"])
layout_axes["xaxis8"].update(tickvals=[-2.5, 0, 2.5, 5], ticktext=["\u22122.5", "0.0", "2.5", "5.0"])

# ---------- f ----------
xf, yf = axes(10, 60, 590, 540, 813, [.7945, 3.2257], [811, -8],
              dict(visible=False), dict(visible=False))
flows = [flow_tff, flow_stress, flow_nostress, flow_lgals1, flow_gsta, flow_cyto, flow_cc2, flow_cc1]
half = .1674
nL, nM, nP = len(pre_names), len(post_names), 3
cube = np.array(flows, dtype=float)   # L x M x P

def ribbon(x_left, x_a, x_b, t0, t1, b0, b1, col):
    u = np.linspace(0, 1, 30)
    dx = x_b - x_a
    bez_x = (1-u)**3*x_a + 3*(1-u)**2*u*(x_a+.5*dx) + 3*(1-u)*u**2*(x_b-.5*dx) + u**3*x_b
    s = 3*u**2 - 2*u**3
    top = t0 + (t1 - t0) * s
    bot = b0 + (b1 - b0) * s
    xs_ = np.concatenate([[x_left], bez_x, bez_x[::-1], [x_left]])
    ys_ = np.concatenate([[t0], top, bot[::-1], [b0]])
    fig.add_trace(go.Scatter(x=xs_, y=ys_, mode="lines", fill="toself", fillcolor=col, line=dict(width=0),
                             xaxis=xf, yaxis=yf, **NOHOVER))

# pre -> post: pre side ordered cluster/phenotype, post side ordered phenotype/pre cluster
pre_tot = cube.sum(axis=(1, 2))
pre_edges = np.concatenate([[0], np.cumsum(pre_tot)])
post_tot = cube.sum(axis=(0, 2))
post_edges = np.concatenate([[0], np.cumsum(post_tot)])
left_pos = {}
for l in range(nL):
    y = pre_edges[l]
    for m in range(nM):
        for p in range(nP):
            left_pos[(l, m, p)] = y
            y += cube[l, m, p]
mid_pos = {}
for m in range(nM):
    y = post_edges[m]
    for p in range(nP):
        for l in range(nL):
            mid_pos[(l, m, p)] = y
            y += cube[l, m, p]
for l in range(nL):
    for m in range(nM):
        for p in range(nP):
            w = cube[l, m, p]
            if w > 0:
                a, b = left_pos[(l, m, p)], mid_pos[(l, m, p)]
                ribbon(1 - half, 1 + half, 2 - half, a, b, a + w, b + w, pheno_fill[p])

# post -> phenotype
mp = cube.sum(axis=0)
pheno_tot = mp.sum(axis=0)
pheno_edges = np.concatenate([[0], np.cumsum(pheno_tot)])
right_y = pheno_edges[:-1].copy()
for m in range(nM):
    y = post_edges[m]
    for p in range(nP):
        w = mp[m, p]
        if w > 0:
            ribbon(2 - half, 2 + half, 3 - half, y, right_y[p], y + w, right_y[p] + w, pheno_fill[p])
            fig.add_trace(go.Scatter(x=[3 - half, 3 + half, 3 + half, 3 - half, 3 - half],
                                     y=[right_y[p], right_y[p], right_y[p] + w, right_y[p] + w, right_y[p]],
                                     mode="lines", fill="toself", fillcolor=pheno_fill[p], line=dict(width=0),
                                     xaxis=xf, yaxis=yf, **NOHOVER))
        y += w
        right_y[p] += w

# strata outlines and labels
for centre, edges, names in [(1, pre_edges, pre_names), (2, post_edges, post_names), (3, pheno_edges, pheno_names)]:
    for i, nm in enumerate(names):
        y0, y1 = edges[i], edges[i + 1]
        fig.add_trace(go.Scatter(x=[centre - half, centre + half, centre + half, centre - half, centre - half],
                                 y=[y0, y0, y1, y1, y0], mode="lines", xaxis=xf, yaxis=yf,
                                 line=dict(color="rgba(40,40,30,.92)", width=1.3), **NOHOVER))
        annots.append(dict(x=centre, y=(y0 + y1) / 2, xref=xf, yref=yf, text=nm, showarrow=False,
                           font=dict(size=7, color="#222", family=FONT)))

text(106, 535, "<i>In vitro</i> KPP", size=8.9)
text(322.7, 535, "<i>In vivo</i> KPP", size=8.9)
text(106.3, 821.3, "Pre-Implantation", size=9.4)
text(323, 821.3, "Post-Implantation", size=9.4)
text(543, 821.3, "Tumor immune", size=9.4)
text(543, 833, "phenotype", size=9.4)
text(612.5, 659, "Immune phenotype", size=7, anchor="left")
for (y0, y1), nm, col in zip([(666, 676.7), (677, 687.3), (687.7, 697)], legend_names, pheno_swatch):
    rect(613.3, y0, 622.7, y1, col)
    text(626, (y0 + y1) / 2, nm, size=5.3, anchor="left")

fig.update_layout(width=W, height=H, margin=dict(l=0, r=0, t=0, b=0), autosize=False,
                  barmode="overlay", paper_bgcolor="white", plot_bgcolor="rgba(0,0,0,0)",
                  showlegend=False, font=dict(family=FONT), annotations=annots, shapes=shapes, **layout_axes)
fig.write_html("out.html", post_script="document.body.style.margin='0';",
               config=dict(displayModeBar=False, responsive=False))
